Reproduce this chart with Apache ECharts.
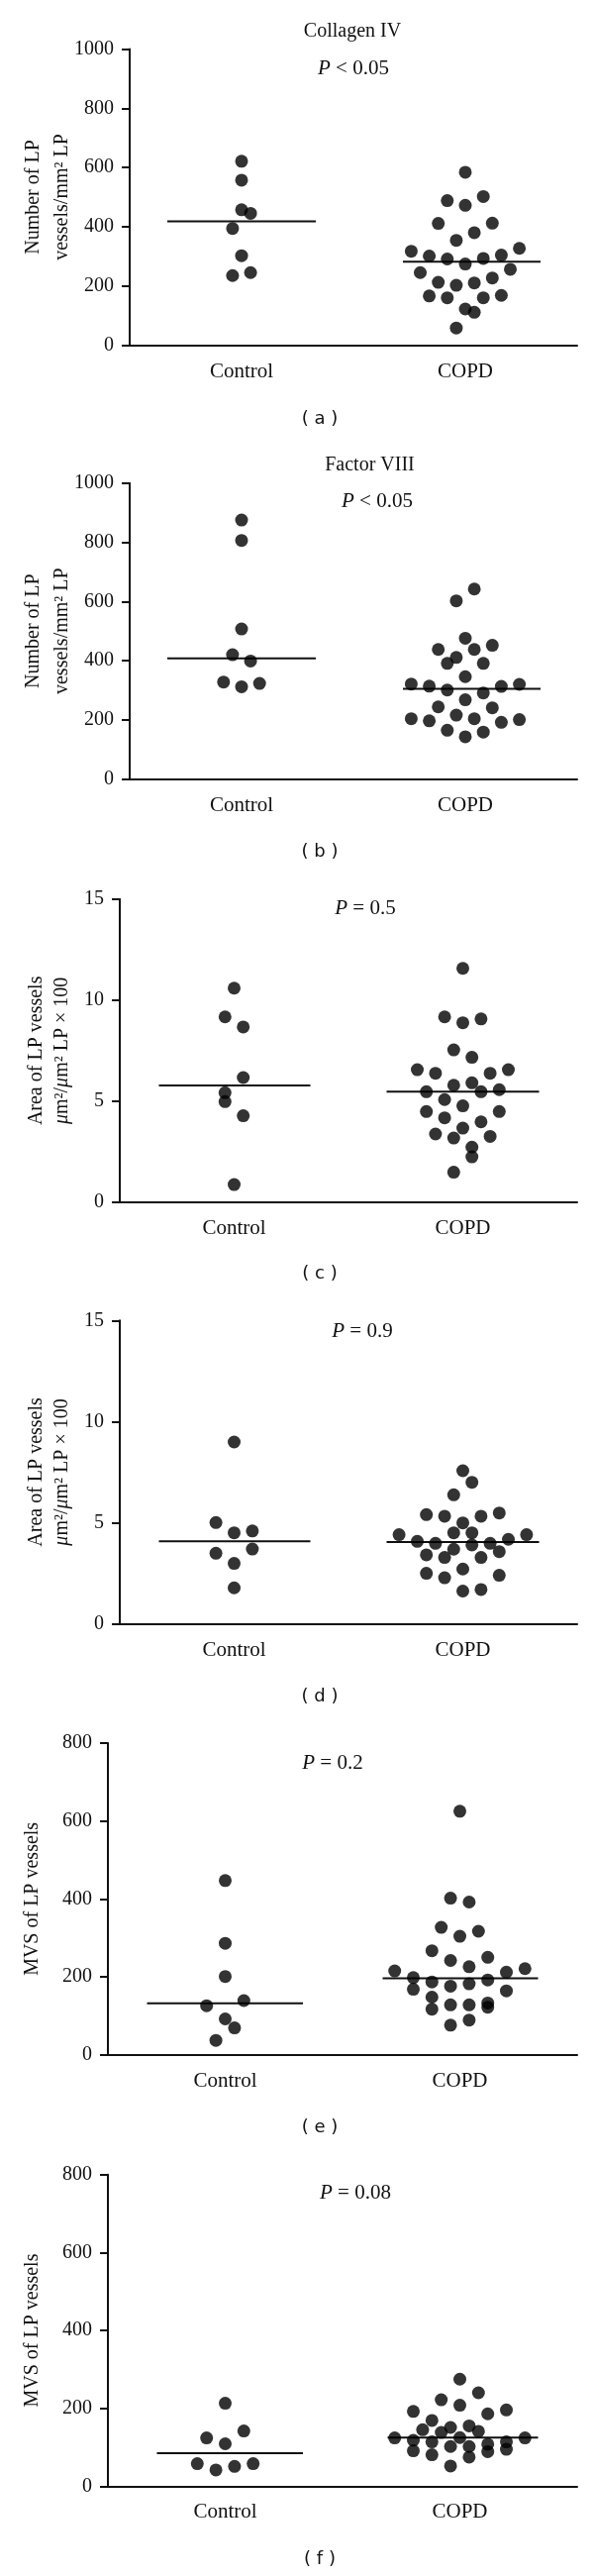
<!DOCTYPE html>
<html><head><meta charset="utf-8">
<script src="https://cdn.jsdelivr.net/npm/echarts@6/dist/echarts.min.js"></script>
<style>html,body{margin:0;padding:0;background:#fff}#c{width:600px;height:2601px}</style>
</head><body><div id="c"></div>
<script>
// ---------- DATA ----------
const categories = ['Control', 'COPD'];

// (a) Collagen IV
const aControl = [621, 557, 457, 445, 394, 302, 235, 245];
const aControlJitter = [0, 0, 0, 1, -1, 0, -1, 1];
const aCopd = [584, 488, 502, 472, 411, 412, 380, 354, 317, 301, 291, 293, 304, 327, 274, 245, 256, 227, 212, 202, 210, 166, 160, 160, 168, 122, 111, 58];
const aCopdJitter = [0, -2, 2, 0, -3, 3, 1, -1, -6, -4, -2, 2, 4, 6, 0, -5, 5, 3, -3, -1, 1, -4, -2, 2, 4, 0, 1, -1];
const aMedians = [418, 282];

// (b) Factor VIII
const bControl = [875, 806, 507, 420, 399, 328, 312, 323];
const bControlJitter = [0, 0, 0, -1, 1, -2, 0, 2];
const bCopd = [642, 602, 476, 438, 438, 452, 411, 391, 391, 346, 321, 314, 301, 313, 320, 291, 268, 244, 241, 204, 197, 216, 204, 192, 201, 165, 159, 143];
const bCopdJitter = [1, -1, 0, -3, 1, 3, -1, -2, 2, 0, -6, -4, -2, 4, 6, 2, 0, -3, 3, -6, -4, -1, 1, 4, 6, -2, 2, 0];
const bMedians = [408, 305];

// (c) Area of LP vessels
const cControl = [10.59, 9.17, 8.67, 6.17, 5.42, 4.98, 4.28, 0.88];
const cControlJitter = [0, -1, 1, 1, -1, -1, 1, 0];
const cCopd = [11.57, 9.17, 8.88, 9.07, 7.54, 7.17, 6.56, 6.38, 6.38, 6.56, 5.79, 5.91, 5.47, 5.47, 5.57, 5.08, 4.77, 4.49, 4.49, 4.18, 3.98, 3.67, 3.38, 3.18, 3.26, 2.73, 2.25, 1.49];
const cCopdJitter = [0, -2, 0, 2, -1, 1, -5, -3, 3, 5, -1, 1, -4, 2, 4, -2, 0, -4, 4, -2, 2, 0, -3, -1, 3, 1, 1, -1];
const cMedians = [5.78, 5.47];

// (d) Area of LP vessels
const dControl = [8.99, 5.01, 4.50, 4.59, 3.49, 3.70, 2.99, 1.78];
const dControlJitter = [0, -2, 0, 2, -2, 2, 0, 0];
const dCopd = [7.57, 7.00, 6.38, 5.40, 5.32, 5.32, 5.48, 4.99, 4.41, 4.50, 4.50, 4.41, 4.08, 3.98, 3.90, 3.98, 4.18, 3.69, 3.41, 3.57, 3.28, 3.28, 2.71, 2.50, 2.28, 2.40, 1.62, 1.70];
const dCopdJitter = [0, 1, -1, -4, -2, 2, 4, 0, -7, -1, 1, 7, -5, -3, 1, 3, 5, -1, -4, 4, -2, 2, 0, -4, -2, 4, 0, 2];
const dMedians = [4.08, 4.05];

// (e) MVS of LP vessels
const eControl = [447, 286, 201, 126, 139, 92, 69, 37];
const eControlJitter = [0, 0, 0, -2, 2, 0, 1, -1];
const eCopd = [625, 402, 392, 327, 304, 317, 267, 242, 250, 226, 215, 212, 221, 198, 187, 192, 176, 182, 168, 164, 148, 128, 128, 133, 117, 122, 76, 89];
const eCopdJitter = [0, -1, 1, -2, 0, 2, -3, -1, 3, 1, -7, 5, 7, -5, -3, 3, -1, 1, -5, 5, -3, -1, 1, 3, -3, 3, -1, 1];
const eMedians = [132, 196];

// (f) MVS of LP vessels
const fControl = [213, 124, 142, 109, 58, 42, 51, 58];
const fControlJitter = [0, -2, 2, 0, -3, -1, 1, 3];
const fCopd = [275, 240, 222, 208, 192, 196, 186, 169, 151, 155, 145, 138, 141, 125, 124, 124, 118, 114, 114, 102, 102, 108, 91, 89, 95, 81, 75, 52];
const fCopdJitter = [0, 2, -2, 0, -5, 5, 3, -3, -1, 1, -4, -2, 2, 0, -7, 7, -5, -3, 5, -1, 1, 3, -5, 3, 5, -3, 1, -1];
const fMedians = [85, 125];

// axis scales
const yMaxes = [1000, 1000, 15, 15, 800, 800];
const yIntervals = [200, 200, 5, 5, 200, 200];

// texts
const panelTitles = ['Collagen IV', 'Factor VIII', '', '', '', ''];
const pTexts = ['{i|P} < 0.05', '{i|P} < 0.05', '{i|P} = 0.5', '{i|P} = 0.9', '{i|P} = 0.2', '{i|P} = 0.08'];
const yNames = [
  'Number of LP\nvessels/mm² LP',
  'Number of LP\nvessels/mm² LP',
  'Area of LP vessels\n{i|μ}m²/{i|μ}m² LP × 100',
  'Area of LP vessels\n{i|μ}m²/{i|μ}m² LP × 100',
  'MVS of LP vessels',
  'MVS of LP vessels'
];
const panelLabels = ['( a )', '( b )', '( c )', '( d )', '( e )', '( f )'];

// ---------- LAYOUT / STYLE ----------
const layout = [
  {grid:{left:131, top:49.5, width:452, height:299}, slot:9.1, span:[[-75,75],[-63,76]], nameGap:54, lh:29, title:[356,31.7], p:[357,69.3], lab:[323,423]},
  {grid:{left:131, top:487.7, width:452, height:299}, slot:9.1, span:[[-75,75],[-63,76]], nameGap:54, lh:29, title:[373.5,470], p:[381,506.7], lab:[323,860]},
  {grid:{left:121, top:907.7, width:462, height:306.3}, slot:9.2, span:[[-76,77],[-77,77]], nameGap:45, lh:26, title:null, p:[369,917.3], lab:[323,1286.7]},
  {grid:{left:121, top:1333.3, width:462, height:306.3}, slot:9.2, span:[[-76,77],[-77,77]], nameGap:45, lh:26, title:null, p:[366,1344], lab:[323,1713.3]},
  {grid:{left:109, top:1760, width:474, height:314.7}, slot:9.4, span:[[-79,78.5],[-78,79]], nameGap:65, lh:22, title:null, p:[336,1780], lab:[323,2148.3]},
  {grid:{left:109, top:2195.7, width:474, height:314.7}, slot:9.4, span:[[-69,78.5],[-73,79]], nameGap:65, lh:22, title:null, p:[359,2214], lab:[323,2584]}
];

const groups = [
  [aControl, aControlJitter, aCopd, aCopdJitter, aMedians],
  [bControl, bControlJitter, bCopd, bCopdJitter, bMedians],
  [cControl, cControlJitter, cCopd, cCopdJitter, cMedians],
  [dControl, dControlJitter, dCopd, dCopdJitter, dMedians],
  [eControl, eControlJitter, eCopd, eCopdJitter, eMedians],
  [fControl, fControlJitter, fCopd, fCopdJitter, fMedians]
];

const SERIF = "'Liberation Serif', 'DejaVu Serif', serif";
const INK = '#111';

const grids = [], xAxes = [], yAxes = [], series = [], graphics = [];

groups.forEach((g, i) => {
  const L = layout[i];
  grids.push(Object.assign({containLabel:false}, L.grid));
  xAxes.push({
    type:'category', gridIndex:i, data:categories, boundaryGap:true,
    axisLine:{lineStyle:{color:INK, width:2}},
    axisTick:{alignWithLabel:true, length:9, lineStyle:{color:INK, width:2}},
    axisLabel:{color:INK, fontFamily:SERIF, fontSize:21, margin:16},
    splitLine:{show:false}
  });
  yAxes.push({
    type:'value', gridIndex:i, min:0, max:yMaxes[i], interval:yIntervals[i],
    name:yNames[i], nameLocation:'middle', nameRotate:90, nameGap:L.nameGap,
    nameMoveOverlap:false,
    nameTextStyle:{color:INK, fontFamily:SERIF, fontSize:20, lineHeight:L.lh,
      rich:{i:{fontStyle:'italic', fontFamily:SERIF, fontSize:20, color:INK}}},
    axisLine:{show:true, lineStyle:{color:INK, width:2}},
    axisTick:{show:true, length:8, lineStyle:{color:INK, width:2}},
    axisLabel:{color:INK, fontFamily:SERIF, fontSize:20, margin:16, formatter:(v) => String(v)},
    splitLine:{show:false}
  });
  const mk = (vals, jit, ci) => vals.map((v, k) => ({value:[ci, v], symbolOffset:[jit[k]*L.slot, 0]}));
  series.push({
    type:'scatter', xAxisIndex:i, yAxisIndex:i, symbol:'circle', symbolSize:13,
    itemStyle:{color:'#000'}, data:mk(g[0], g[1], 0), z:3
  });
  series.push({
    type:'scatter', xAxisIndex:i, yAxisIndex:i, symbol:'circle', symbolSize:13,
    itemStyle:{color:'#000'}, data:mk(g[2], g[3], 1), z:3
  });
  series.push({
    type:'custom', xAxisIndex:i, yAxisIndex:i, z:2,
    data:g[4].map((m, ci) => [ci, m]),
    renderItem:(params, api) => {
      const ci = api.value(0);
      const c = api.coord([ci, api.value(1)]);
      const sp = L.span[ci];
      return {type:'line', shape:{x1:c[0]+sp[0], y1:c[1], x2:c[0]+sp[1], y2:c[1]},
        style:{stroke:INK, lineWidth:2}};
    }
  });
  if (panelTitles[i]) {
    graphics.push({type:'text', x:L.title[0], y:L.title[1],
      style:{text:panelTitles[i], fill:INK, font:"20px " + SERIF, align:'center', verticalAlign:'middle'}});
  }
  graphics.push({type:'text', x:L.p[0], y:L.p[1],
    style:{text:pTexts[i], fill:INK, fontFamily:SERIF, fontSize:21, align:'center', verticalAlign:'middle',
      rich:{i:{fontStyle:'italic', fontFamily:SERIF, fontSize:21, fill:INK}}}});
  graphics.push({type:'text', x:L.lab[0], y:L.lab[1],
    style:{text:panelLabels[i], fill:'#111', fontFamily:"'DejaVu Sans', sans-serif", fontSize:18, align:'center', verticalAlign:'middle'}});
});

const chart = echarts.init(document.getElementById('c'), null, {renderer:'canvas'});
chart.setOption({
  animation:false, backgroundColor:'#fff',
  grid:grids, xAxis:xAxes, yAxis:yAxes, series:series, graphic:graphics
});
</script></body></html>
